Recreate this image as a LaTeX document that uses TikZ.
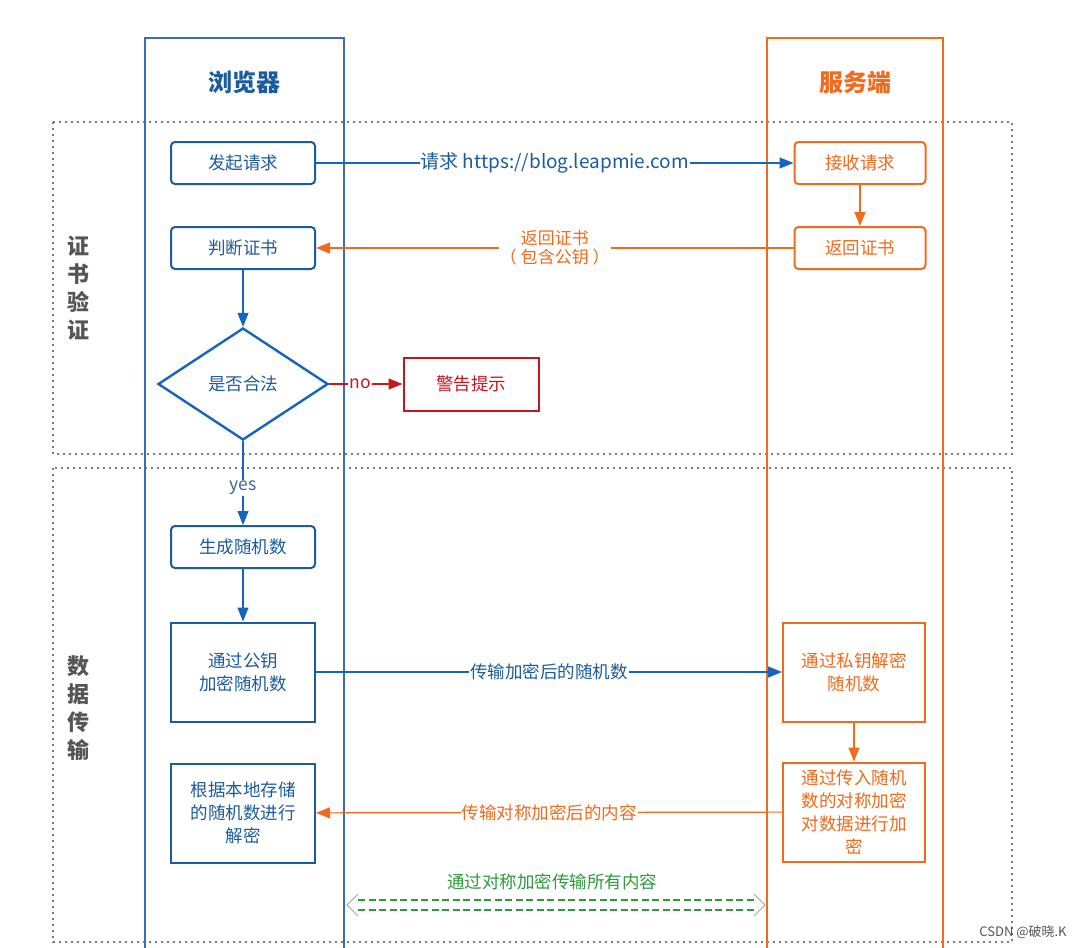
\documentclass[tikz,border=0pt]{standalone}
\usepackage{fontspec}
\setmainfont{Noto Sans CJK SC}
\usetikzlibrary{arrows.meta,shapes.geometric}
\definecolor{bblue}{HTML}{1B5C9E}
\definecolor{ablue}{HTML}{1565C0}
\definecolor{lblue}{HTML}{3A6DB5}
\definecolor{oran}{HTML}{F26A1B}
\definecolor{dred}{HTML}{C8161D}
\definecolor{grn}{HTML}{2E9A3C}
\definecolor{gtxt}{HTML}{555555}
\definecolor{dotg}{HTML}{7A7A7A}
\tikzset{
  x=1pt,y=-1pt,
  txt/.style={font=\fontsize{17.5}{23}\selectfont},
  rbox/.style={draw=bblue,line width=2pt,rounded corners=4pt,minimum width=144pt,minimum height=42pt,text=bblue,txt,fill=white},
  sbox/.style={draw=bblue,line width=2pt,minimum width=144pt,minimum height=99pt,text=bblue,txt,align=center,fill=white},
  orbox/.style={draw=oran,line width=2pt,rounded corners=4pt,minimum width=131pt,minimum height=42pt,text=oran,txt,fill=white},
  osbox/.style={draw=oran,line width=2pt,minimum width=142pt,minimum height=99pt,text=oran,txt,align=center,fill=white},
  tip/.style={-{Triangle[length=14pt,width=11pt]}},
  barr/.style={draw=ablue,line width=1.2pt,tip},
  oarr/.style={draw=oran,line width=1.2pt,tip},
  lbl/.style={fill=white,inner sep=1pt,txt},
  frame/.style={draw=dotg,line width=1.8pt,dash pattern=on 1.6pt off 4.4pt},
  side/.style={font=\fontsize{22}{28}\selectfont\bfseries,text=gtxt,align=center},
  gdash/.style={draw=grn,line width=1.4pt,dash pattern=on 7pt off 3.5pt},
  gtip/.style={draw=gray!70,line width=1pt},
}
\begin{document}
\begin{tikzpicture}
\useasboundingbox (0,0) rectangle (1080,948);
\fill[white] (0,0) rectangle (1080,948);
% dotted frames
\draw[frame] (53,122) rectangle (1012,454);
\draw[frame] (53,468) rectangle (1012,942);
% lanes
\draw[lblue,line width=1.1pt] (145,950) -- (145,38) -- (344,38) -- (344,950);
\draw[oran,line width=1.1pt] (767,950) -- (767,38) -- (943,38) -- (943,950);
\node[font=\fontsize{24}{28}\selectfont\bfseries,text=bblue] (hb) at (244,82) {浏览器};
\node[font=\fontsize{24}{28}\selectfont\bfseries,text=oran] (hs) at (855,82) {服务端};
% side labels
\node[side] (s1) at (78,288) {证\\书\\验\\证};
\node[side] (s2) at (78,708) {数\\据\\传\\输};
% nodes
\node[rbox] (req) at (243,163) {发起请求};
\node[orbox] (recv) at (860,163) {接收请求};
\node[rbox] (judge) at (243,248) {判断证书};
\node[orbox] (ret) at (860,248) {返回证书};
\node[draw=ablue,line width=2.4pt,shape=diamond,minimum width=170pt,minimum height=112pt,inner sep=0pt,text=bblue,txt,fill=white] (dia) at (243,384) {是否合法};
\node[draw=dred,line width=2pt,minimum width=135pt,minimum height=53pt,text=dred,txt,fill=white] (warn) at (471,384) {警告提示};
\node[rbox] (gen) at (243,547) {生成随机数};
\node[sbox] (enc) at (243,672) {通过公钥\\加密随机数};
\node[sbox] (dec) at (243,813) {根据本地存储\\的随机数进行\\解密};
\node[osbox] (pdec) at (854,672) {通过私钥解密\\随机数};
\node[osbox] (senc) at (854,812) {通过传入随机\\数的对称加密\\对数据进行加\\密};
% connectors
\draw[barr] (req) -- node[lbl,text=bblue,font=\fontsize{19}{23}\selectfont] {请求 https://blog.leapmie.com} (recv);
\draw[oarr] (recv) -- (ret);
\draw[oarr] (ret) -- node[lbl,text=oran,align=center,font=\fontsize{17}{19}\selectfont] {返回证书\\（ 包含公钥 ）} (judge);
\draw[barr] (judge) -- (dia);
\draw[draw=dred,line width=1.2pt,tip] (dia) -- node[lbl,text=dred,pos=0.42] {no} (warn);
\draw[barr] (dia) -- node[lbl,text=bblue!70!gray,pos=0.56] {yes} (gen);
\draw[barr] (gen) -- (enc);
\draw[barr] (enc) -- node[lbl,text=bblue] {传输加密后的随机数} (pdec);
\draw[oarr] (pdec) -- (senc);
\draw[oarr] (senc) -- node[lbl,text=oran] {传输对称加密后的内容} (dec);
% green double arrow
\coordinate (gl) at (347,905);
\coordinate (gr) at (765,905);
\coordinate (gla) at (358,900);
\coordinate (glb) at (358,910);
\coordinate (gra) at (754,900);
\coordinate (grb) at (754,910);
\draw[gdash] (gla) -- (gra);
\draw[gdash] (glb) -- (grb);
\draw[gtip] (358,894) -- (gl) -- (358,916);
\draw[gtip] (754,894) -- (gr) -- (754,916);
\node[txt,text=grn] (gt) at (552,882) {通过对称加密传输所有内容};
\node[font=\fontsize{13}{15}\selectfont,text=gtxt] (wm) at (1023,932) {CSDN @破晓.K};
\end{tikzpicture}
\end{document}
